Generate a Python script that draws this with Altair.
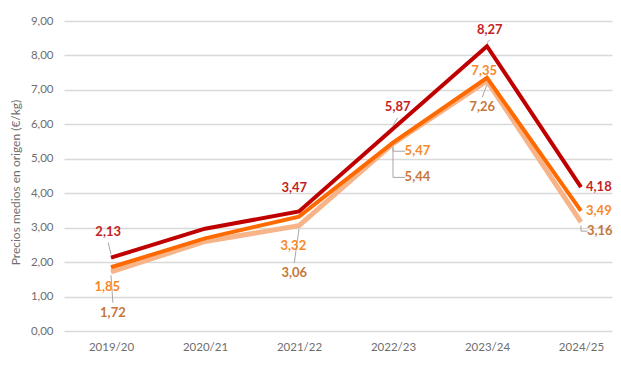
import altair as alt
import pandas as pd

# ---- data ----
categories = ["2019/20", "2020/21", "2021/22", "2022/23", "2023/24", "2024/25"]
series_names = ["Serie A", "Serie B", "Serie C"]
serie_a = [2.13, 2.97, 3.47, 5.87, 8.27, 4.18]
serie_b = [1.85, 2.69, 3.32, 5.47, 7.35, 3.49]
serie_c = [1.72, 2.60, 3.06, 5.44, 7.26, 3.16]

# ---- label layout (offsets from the point: category units, value units) ----
label_offsets = {
    "Serie A": [(-0.03, 0.74), None, (-0.05, 0.67), (0.05, 0.62), (0.03, 0.48), (0.19, 0.0)],
    "Serie B": [(-0.04, -0.58), None, (-0.06, -0.86), (0.26, -0.25), (-0.03, 0.21), (0.19, 0.0)],
    "Serie C": [(0.02, -1.20), None, (-0.05, -1.38), (0.26, -0.98), (-0.05, -0.77), (0.20, -0.26)],
}
leader_style = {
    "Serie A": ["line", None, None, "line", "line", None],
    "Serie B": [None, None, None, "elbow", None, None],
    "Serie C": ["line", None, "line", "elbow", "line", "elbow"],
}

line_colors = ["#C00000", "#FF6A00", "#F7B489"]
text_colors = ["#C41E24", "#F7892B", "#C5773B"]
line_widths = {"Serie A": 4, "Serie B": 4, "Serie C": 5}

values = {"Serie A": serie_a, "Serie B": serie_b, "Serie C": serie_c}

rows, labels, segs = [], [], []
for s in series_names:
    for i, v in enumerate(values[s]):
        rows.append({"serie": s, "i": i, "v": v})
        off = label_offsets[s][i]
        if off is None:
            continue
        lx, ly = i + off[0], v + off[1]
        labels.append({"serie": s, "x": lx, "y": ly,
                       "txt": f"{v:.2f}".replace(".", ",")})
        st = leader_style[s][i]
        if st == "line":
            sgn = 1 if ly > v else -1
            segs.append({"x": i, "y": v + sgn * 0.1, "x2": lx, "y2": ly - sgn * 0.3})
        elif st == "elbow":
            segs.append({"x": i, "y": v - 0.1, "x2": i, "y2": ly})
            segs.append({"x": i, "y": ly, "x2": lx - 0.13, "y2": ly})

df = pd.DataFrame(rows)
df_lab = pd.DataFrame(labels)
df_seg = pd.DataFrame(segs)

FONT = "Lato"
label_expr = "[" + ",".join(f"'{c}'" for c in categories) + "][datum.value]"

xscale = alt.Scale(domain=[-0.5, 5.33], nice=False, zero=False)
yscale = alt.Scale(domain=[0, 9], nice=False)

xaxis = alt.Axis(values=list(range(len(categories))), labelExpr=label_expr,
                 ticks=False, domain=False, grid=False, title=None,
                 labelFont=FONT, labelFontSize=11.5, labelColor="#6E6E6E",
                 labelPadding=10)
yaxis = alt.Axis(values=list(range(10)),
                 labelExpr="replace(format(datum.value, '.2f'), '.', ',')",
                 ticks=False, domain=False, grid=True, gridColor="#D9D9D9",
                 gridWidth=1.5, labelFont=FONT, labelFontSize=11.5,
                 labelColor="#6E6E6E", labelPadding=11,
                 title="Precios medios en origen (€/kg)", titleFont=FONT,
                 titleFontSize=12, titleFontWeight="normal", titleColor="#6E6E6E",
                 titleAngle=270, titleX=-49, titleY=161, titleAlign="center",
                 titleBaseline="middle")

color_scale = alt.Scale(domain=series_names, range=line_colors)
text_scale = alt.Scale(domain=series_names, range=text_colors)

leaders = alt.Chart(df_seg).mark_rule(color="#A6A6A6", strokeWidth=1).encode(
    x=alt.X("x:Q", scale=xscale, axis=xaxis),
    y=alt.Y("y:Q", scale=yscale, axis=yaxis),
    x2="x2:Q", y2="y2:Q",
)

line_layers = []
for s in ["Serie C", "Serie B", "Serie A"]:
    line_layers.append(
        alt.Chart(df[df.serie == s]).mark_line(
            strokeWidth=line_widths[s], strokeJoin="miter", strokeCap="butt"
        ).encode(
            x=alt.X("i:Q", scale=xscale, axis=xaxis),
            y=alt.Y("v:Q", scale=yscale, axis=yaxis),
            color=alt.Color("serie:N", scale=color_scale, legend=None),
        )
    )

texts = alt.Chart(df_lab).mark_text(
    font=FONT, fontSize=13, fontWeight="bold", baseline="middle", align="center"
).encode(
    x=alt.X("x:Q", scale=xscale, axis=xaxis),
    y=alt.Y("y:Q", scale=yscale, axis=yaxis),
    text="txt:N",
    color=alt.Color("serie:N", scale=text_scale, legend=None),
)

chart = alt.layer(leaders, *line_layers, texts).resolve_scale(color="independent").properties(
    width=548, height=310,
    autosize=alt.AutoSizeParams(type="none"),
    padding={"left": 56, "top": 13, "right": 1, "bottom": 30},
    background="white",
).configure_view(stroke=None)

chart.save("out.html", embed_options={"renderer": "svg", "actions": False})
